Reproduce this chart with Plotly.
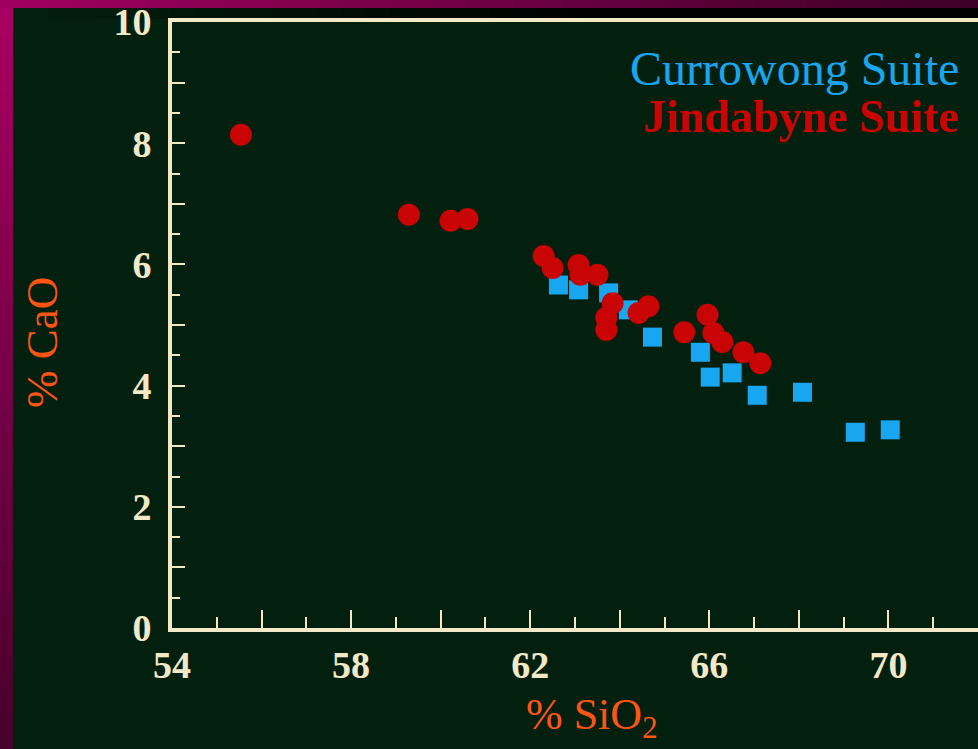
import plotly.graph_objects as go

# CaO vs SiO2 for two granite suites
currowong_sio2 = [62.63, 63.08, 63.75, 64.19, 64.73, 65.80, 66.02, 66.51, 67.07, 68.08, 69.26, 70.04]
currowong_cao = [5.66, 5.58, 5.53, 5.25, 4.80, 4.55, 4.14, 4.21, 3.84, 3.89, 3.23, 3.27]

jindabyne_sio2 = [55.54, 59.29, 60.22, 60.60, 62.30, 62.50, 63.08, 63.12, 63.50, 63.84,
                  63.70, 63.70, 64.42, 64.64, 65.44, 65.96, 66.09, 66.29, 66.76, 67.14]
jindabyne_cao = [8.14, 6.82, 6.72, 6.75, 6.14, 5.94, 5.99, 5.83, 5.83, 5.36,
                 5.12, 4.92, 5.20, 5.31, 4.88, 5.17, 4.87, 4.72, 4.55, 4.37]

x_ticks = [54, 56, 58, 60, 62, 64, 66, 68, 70, 72]
x_labels = ["54", "", "58", "", "62", "", "66", "", "70", ""]
y_ticks = list(range(0, 11))
y_labels = [str(v) if v % 2 == 0 else "" for v in y_ticks]

W, H = 978, 749
ML, MR, MT, MB = 172, 0, 22, 121
PW, PH = W - ML - MR, H - MT - MB

BG = "#03200e"
CREAM = "#f3e9c6"
ORANGE = "#ff5514"
BLUE = "#19a6f0"
RED = "#c80404"
SERIF = "Liberation Serif"


def px(x):
    return (x - ML) / PW


def py(y):
    return (H - MB - y) / PH


def mix(c1, c2, t):
    return "rgb(%d,%d,%d)" % tuple(round(a + (b - a) * t) for a, b in zip(c1, c2))


fig = go.Figure()

fig.add_trace(go.Scatter(
    x=currowong_sio2, y=currowong_cao, mode="markers", name="Currowong Suite",
    marker=dict(symbol="square", size=19, color=BLUE, line=dict(width=0)),
))
fig.add_trace(go.Scatter(
    x=jindabyne_sio2, y=jindabyne_cao, mode="markers", name="Jindabyne Suite",
    marker=dict(symbol="circle", size=22, color=RED, line=dict(width=0)),
))

# slide frame: magenta strips along the left and top edges
shapes = []
n = 40
top_c, bot_c = (168, 0, 98), (72, 0, 44)
for i in range(n):
    y0, y1 = H * i / n, H * (i + 1) / n + 1
    shapes.append(dict(type="rect", xref="paper", yref="paper", layer="above",
                       x0=px(0), x1=px(13), y0=py(y1), y1=py(y0),
                       fillcolor=mix(top_c, bot_c, i / (n - 1)), line=dict(width=0)))
left_c, right_c = (160, 0, 95), (62, 0, 40)
for i in range(n):
    x0, x1 = W * i / n, W * (i + 1) / n + 1
    shapes.append(dict(type="rect", xref="paper", yref="paper", layer="above",
                       x0=px(x0), x1=px(x1), y0=py(8), y1=py(0),
                       fillcolor=mix(left_c, right_c, i / (n - 1)), line=dict(width=0)))
    # dark shadow band beneath the top strip
    shapes.append(dict(type="rect", xref="paper", yref="paper", layer="below",
                       x0=px(max(x0, 13)), x1=px(x1), y0=py(19), y1=py(8),
                       fillcolor=mix((3, 32, 14), (0, 0, 0), min(1, i / (n * 0.6))),
                       line=dict(width=0)))

annotations = [
    dict(text="Currowong Suite", xref="paper", yref="paper", x=px(961), y=py(68),
         xanchor="right", yanchor="middle", showarrow=False,
         font=dict(family=SERIF, size=48, color=BLUE, weight=500)),
    dict(text="<b>Jindabyne Suite</b>", xref="paper", yref="paper", x=px(961), y=py(117),
         xanchor="right", yanchor="middle", showarrow=False,
         font=dict(family=SERIF, size=46, color=RED)),
    dict(text="% CaO", xref="paper", yref="paper", x=px(42), y=py(343),
         xanchor="center", yanchor="middle", textangle=-90, showarrow=False,
         font=dict(family=SERIF, size=45, color=ORANGE)),
    dict(text="% SiO<sub>2</sub>", xref="paper", yref="paper", x=px(592), y=py(717),
         xanchor="center", yanchor="middle", showarrow=False,
         font=dict(family=SERIF, size=44, color=ORANGE)),
]

fig.update_layout(
    width=W, height=H,
    margin=dict(l=ML, r=MR, t=MT, b=MB, pad=0),
    paper_bgcolor=BG, plot_bgcolor=BG,
    showlegend=False,
    shapes=shapes,
    annotations=annotations,
    xaxis=dict(
        range=[54, 72], showgrid=False, zeroline=False,
        showline=True, linecolor=CREAM, linewidth=4, mirror=True,
        tickmode="array", tickvals=x_ticks, ticktext=x_labels,
        ticks="inside", ticklen=18, tickwidth=2, tickcolor=CREAM,
        minor=dict(dtick=1, tick0=54, ticks="inside", ticklen=11, tickwidth=2, tickcolor=CREAM),
        tickfont=dict(family=SERIF, size=38, color=CREAM, weight="bold"),
        ticklabelstandoff=0,
    ),
    yaxis=dict(
        range=[0, 10], showgrid=False, zeroline=False,
        showline=True, linecolor=CREAM, linewidth=4, mirror=False,
        tickmode="array", tickvals=y_ticks, ticktext=y_labels,
        ticks="inside", ticklen=13, tickwidth=2, tickcolor=CREAM,
        minor=dict(dtick=0.5, tick0=0, ticks="inside", ticklen=8, tickwidth=2, tickcolor=CREAM),
        tickfont=dict(family=SERIF, size=38, color=CREAM, weight="bold"),
        ticklabelstandoff=9,
    ),
)

fig.write_html("out.html")
